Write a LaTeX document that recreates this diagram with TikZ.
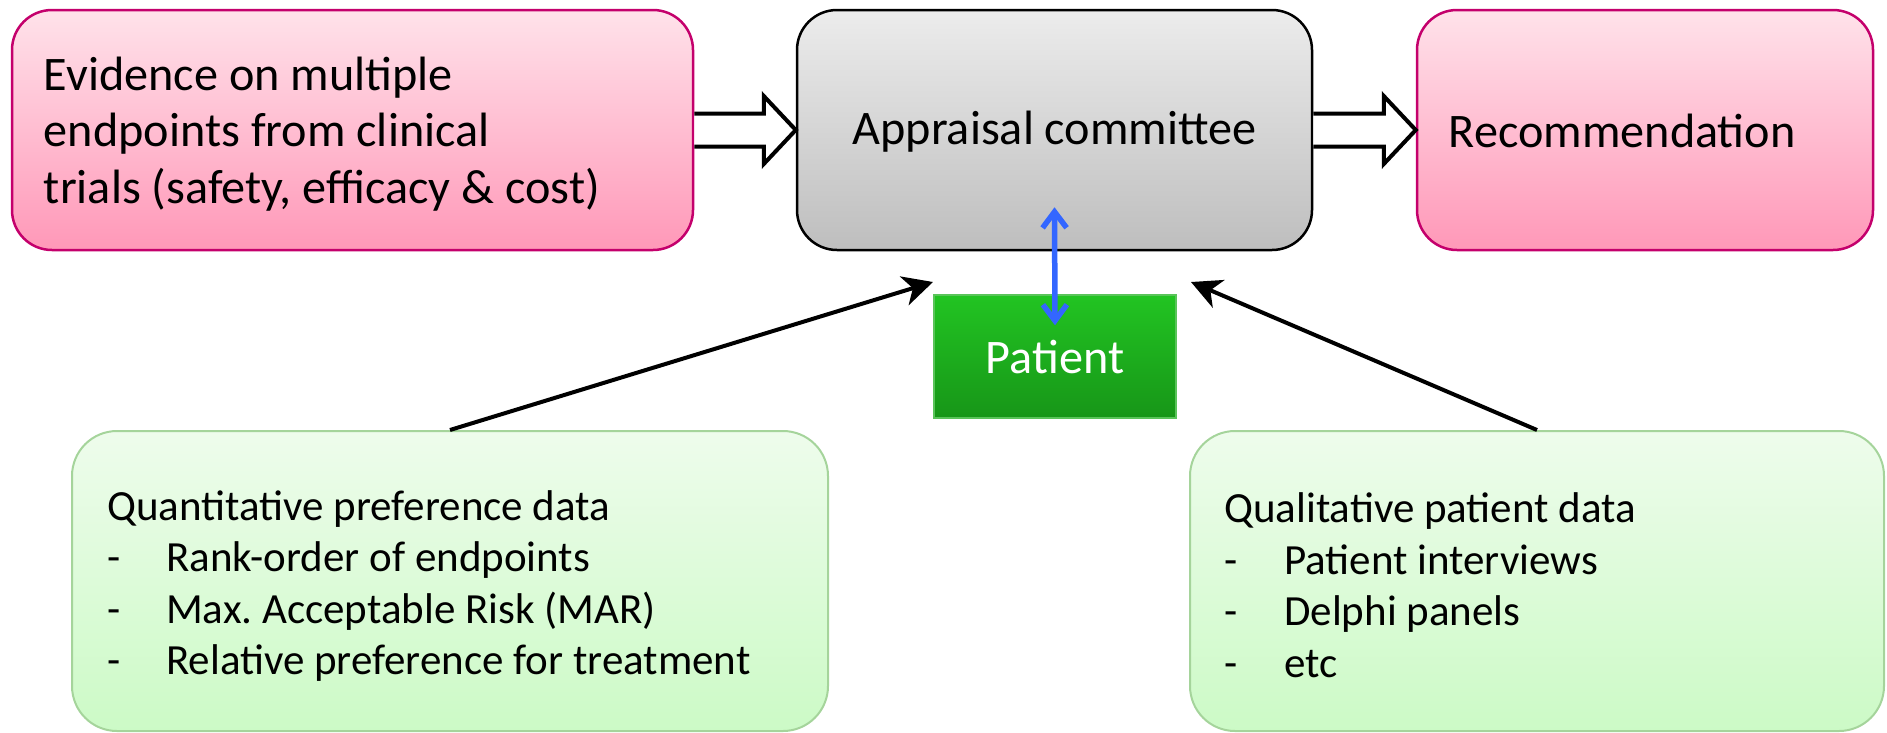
\documentclass[tikz,border=0pt]{standalone}
\usepackage{fontspec}
\setmainfont{Carlito}
\frenchspacing
\usetikzlibrary{arrows.meta,calc}
\definecolor{pinkT}{RGB}{255,226,234}
\definecolor{pinkBot}{RGB}{255,152,184}
\definecolor{pinkLine}{RGB}{196,0,108}
\definecolor{grayT}{RGB}{236,236,236}
\definecolor{grayBot}{RGB}{190,190,190}
\definecolor{greenT}{RGB}{238,252,236}
\definecolor{greenBot}{RGB}{204,250,198}
\definecolor{greenLine}{RGB}{165,212,155}
\definecolor{patT}{RGB}{34,196,34}
\definecolor{patBot}{RGB}{23,150,24}
\definecolor{patLine}{RGB}{90,196,90}
\definecolor{blueA}{RGB}{51,102,255}
\begin{document}
\begin{tikzpicture}[x=1pt,y=-1pt,
  bigfont/.style={font=\fontsize{48.2}{56.5}\selectfont},
  smallfont/.style={font=\fontsize{43}{51.5}\selectfont},
  pinkbox/.style={rounded corners=40pt, draw=pinkLine, line width=2.5pt,
    top color=pinkT, bottom color=pinkBot, minimum height=240pt, inner sep=0pt},
  graybox/.style={rounded corners=40pt, draw=black, line width=2.5pt,
    top color=grayT, bottom color=grayBot, minimum height=240pt,
    minimum width=515pt, inner sep=0pt},
  greenbox/.style={rounded corners=45pt, draw=greenLine, line width=2pt,
    top color=greenT, bottom color=greenBot, minimum height=300pt, inner sep=0pt},
  patbox/.style={draw=patLine, line width=1.5pt, top color=patT, bottom color=patBot,
    minimum width=242pt, minimum height=123pt, inner sep=0pt},
  bigtext/.style={bigfont, align=left, inner sep=0pt},
  smalltext/.style={smallfont, align=left, inner sep=0pt, anchor=west},
  blockarrow/.style={draw=black, fill=white, line width=4pt, line join=miter},
  blk/.style={-{Stealth[length=30pt,width=30pt,inset=9pt]}, line width=4pt},
  twoway/.style={{Straight Barb[length=16pt,width=24pt]}-{Straight Barb[length=16pt,width=24pt]},
    line width=5.5pt, draw=blueA, line cap=round}
]
\useasboundingbox (0,0) rectangle (1887,732);

% boxes
\node[pinkbox, minimum width=681pt] (ev) at (352.5,130) {};
\node[graybox] (ap) at (1054.5,130) {};
\node[pinkbox, minimum width=456pt] (rec) at (1645,130) {};
\node[patbox] (pat) at (1055,356.5) {};
\node[greenbox, minimum width=756pt] (ql) at (450,581) {};
\node[greenbox, minimum width=694pt] (qr) at (1537,581) {};

% texts
\node[bigtext, anchor=west] (evt) at ([xshift=33pt,yshift=-4pt]ev.west)
  {Evidence on multiple\\endpoints from clinical\\trials (safety, efficacy \& cost)};
\node[bigtext] (apt) at ([yshift=-2pt]ap.center) {Appraisal committee};
\node[bigtext, anchor=west] (rect) at ([xshift=33pt,yshift=-1pt]rec.west) {Recommendation};
\node[bigtext, text=white] (patt) at ([yshift=-1pt]pat.center) {Patient};
\node[smalltext] (qlt) at ([xshift=36pt,yshift=-5pt]ql.west)
  {Quantitative preference data\\
   \makebox[59pt][l]{-}Rank-order of endpoints\\
   \makebox[59pt][l]{-}Max. Acceptable Risk (MAR)\\
   \makebox[59pt][l]{-}Relative preference for treatment};
\node[smalltext] (qrt) at ([xshift=35pt,yshift=-4pt]qr.west)
  {Qualitative patient data\\
   \makebox[60pt][l]{-}Patient interviews\\
   \makebox[60pt][l]{-}Delphi panels\\
   \makebox[60pt][l]{-}etc};

% block arrows
\draw[blockarrow] ([yshift=16.5pt]ev.east) -- ([xshift=-32pt,yshift=16.5pt]ap.west)
  -- ([xshift=-32pt,yshift=34pt]ap.west) -- (ap.west)
  -- ([xshift=-32pt,yshift=-34pt]ap.west) -- ([xshift=-32pt,yshift=-16.5pt]ap.west)
  -- ([yshift=-16.5pt]ev.east);
\draw[blockarrow] ([yshift=16.5pt]ap.east) -- ([xshift=-32pt,yshift=16.5pt]rec.west)
  -- ([xshift=-32pt,yshift=34pt]rec.west) -- (rec.west)
  -- ([xshift=-32pt,yshift=-34pt]rec.west) -- ([xshift=-32pt,yshift=-16.5pt]rec.west)
  -- ([yshift=-16.5pt]ap.east);

% input arrows
\coordinate (lt) at (933,282);
\coordinate (rt) at (1191,282);
\draw[blk] (ql.north) -- (lt);
\draw[blk] (qr.north) -- (rt);

% patient two-way arrow
\draw[twoway] ([yshift=44pt]ap.south) -- ([yshift=-31pt]pat.north);
\end{tikzpicture}
\end{document}
